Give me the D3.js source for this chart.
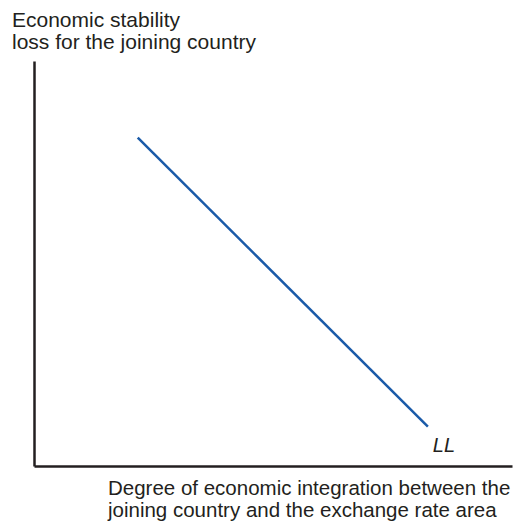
<!DOCTYPE html>
<html>
<head>
<meta charset="utf-8">
<script src="https://cdn.jsdelivr.net/npm/d3@7"></script>
<style>
  body { margin: 0; background: #fff; }
  text { font-family: "Liberation Sans", Arial, sans-serif; fill: #231f20; }
</style>
</head>
<body>
<div id="chart"></div>
<script>
// curve LL, in arbitrary units on both axes
var llX = [2.17, 8.24]
var llY = [8.11, 0.97]

var yTitle = ["Economic stability", "loss for the joining country"]
var xTitle = ["Degree of economic integration between the", "joining country and the exchange rate area"]

var w = 528, h = 524
var mLeft = 34, mRight = 512, mTop = 61, mBottom = 466

var svg = d3.select("#chart")
  .append("svg")
  .attr("width", w)
  .attr("height", h)

var x = d3.scaleLinear().domain([0, 10]).range([mLeft, mRight])
var y = d3.scaleLinear().domain([0, 10]).range([mBottom, mTop])

// axes, no ticks
svg.append("g")
  .attr("transform", "translate(0," + mBottom + ")")
  .call(d3.axisBottom(x).tickValues([]).tickSizeOuter(0))
  .select(".domain").attr("stroke", "#231f20").attr("stroke-width", 2.5)

svg.append("g")
  .attr("transform", "translate(" + mLeft + ",0)")
  .call(d3.axisLeft(y).tickValues([]).tickSizeOuter(0))
  .select(".domain").attr("stroke", "#231f20").attr("stroke-width", 2.5)

var line = d3.line()
  .x(function(d) { return x(d[0]) })
  .y(function(d) { return y(d[1]) })

svg.append("path")
  .attr("d", line(d3.zip(llX, llY)))
  .attr("stroke", "#1a5aa8")
  .attr("stroke-width", 2.5)
  .attr("fill", "none")

svg.append("text")
  .attr("x", x(llX[1]) + 5)
  .attr("y", y(llY[1]) + 25)
  .attr("font-size", 20)
  .attr("font-style", "italic")
  .text("LL")

svg.selectAll(".ytitle")
  .data(yTitle)
  .join("text")
  .attr("x", 12)
  .attr("y", function(d, i) { return 27 + i * 22 })
  .attr("font-size", 21)
  .text(function(d) { return d })

svg.selectAll(".xtitle")
  .data(xTitle)
  .join("text")
  .attr("x", 108)
  .attr("y", function(d, i) { return 495 + i * 22 })
  .attr("font-size", 20.5)
  .text(function(d) { return d })
</script>
</body>
</html>
